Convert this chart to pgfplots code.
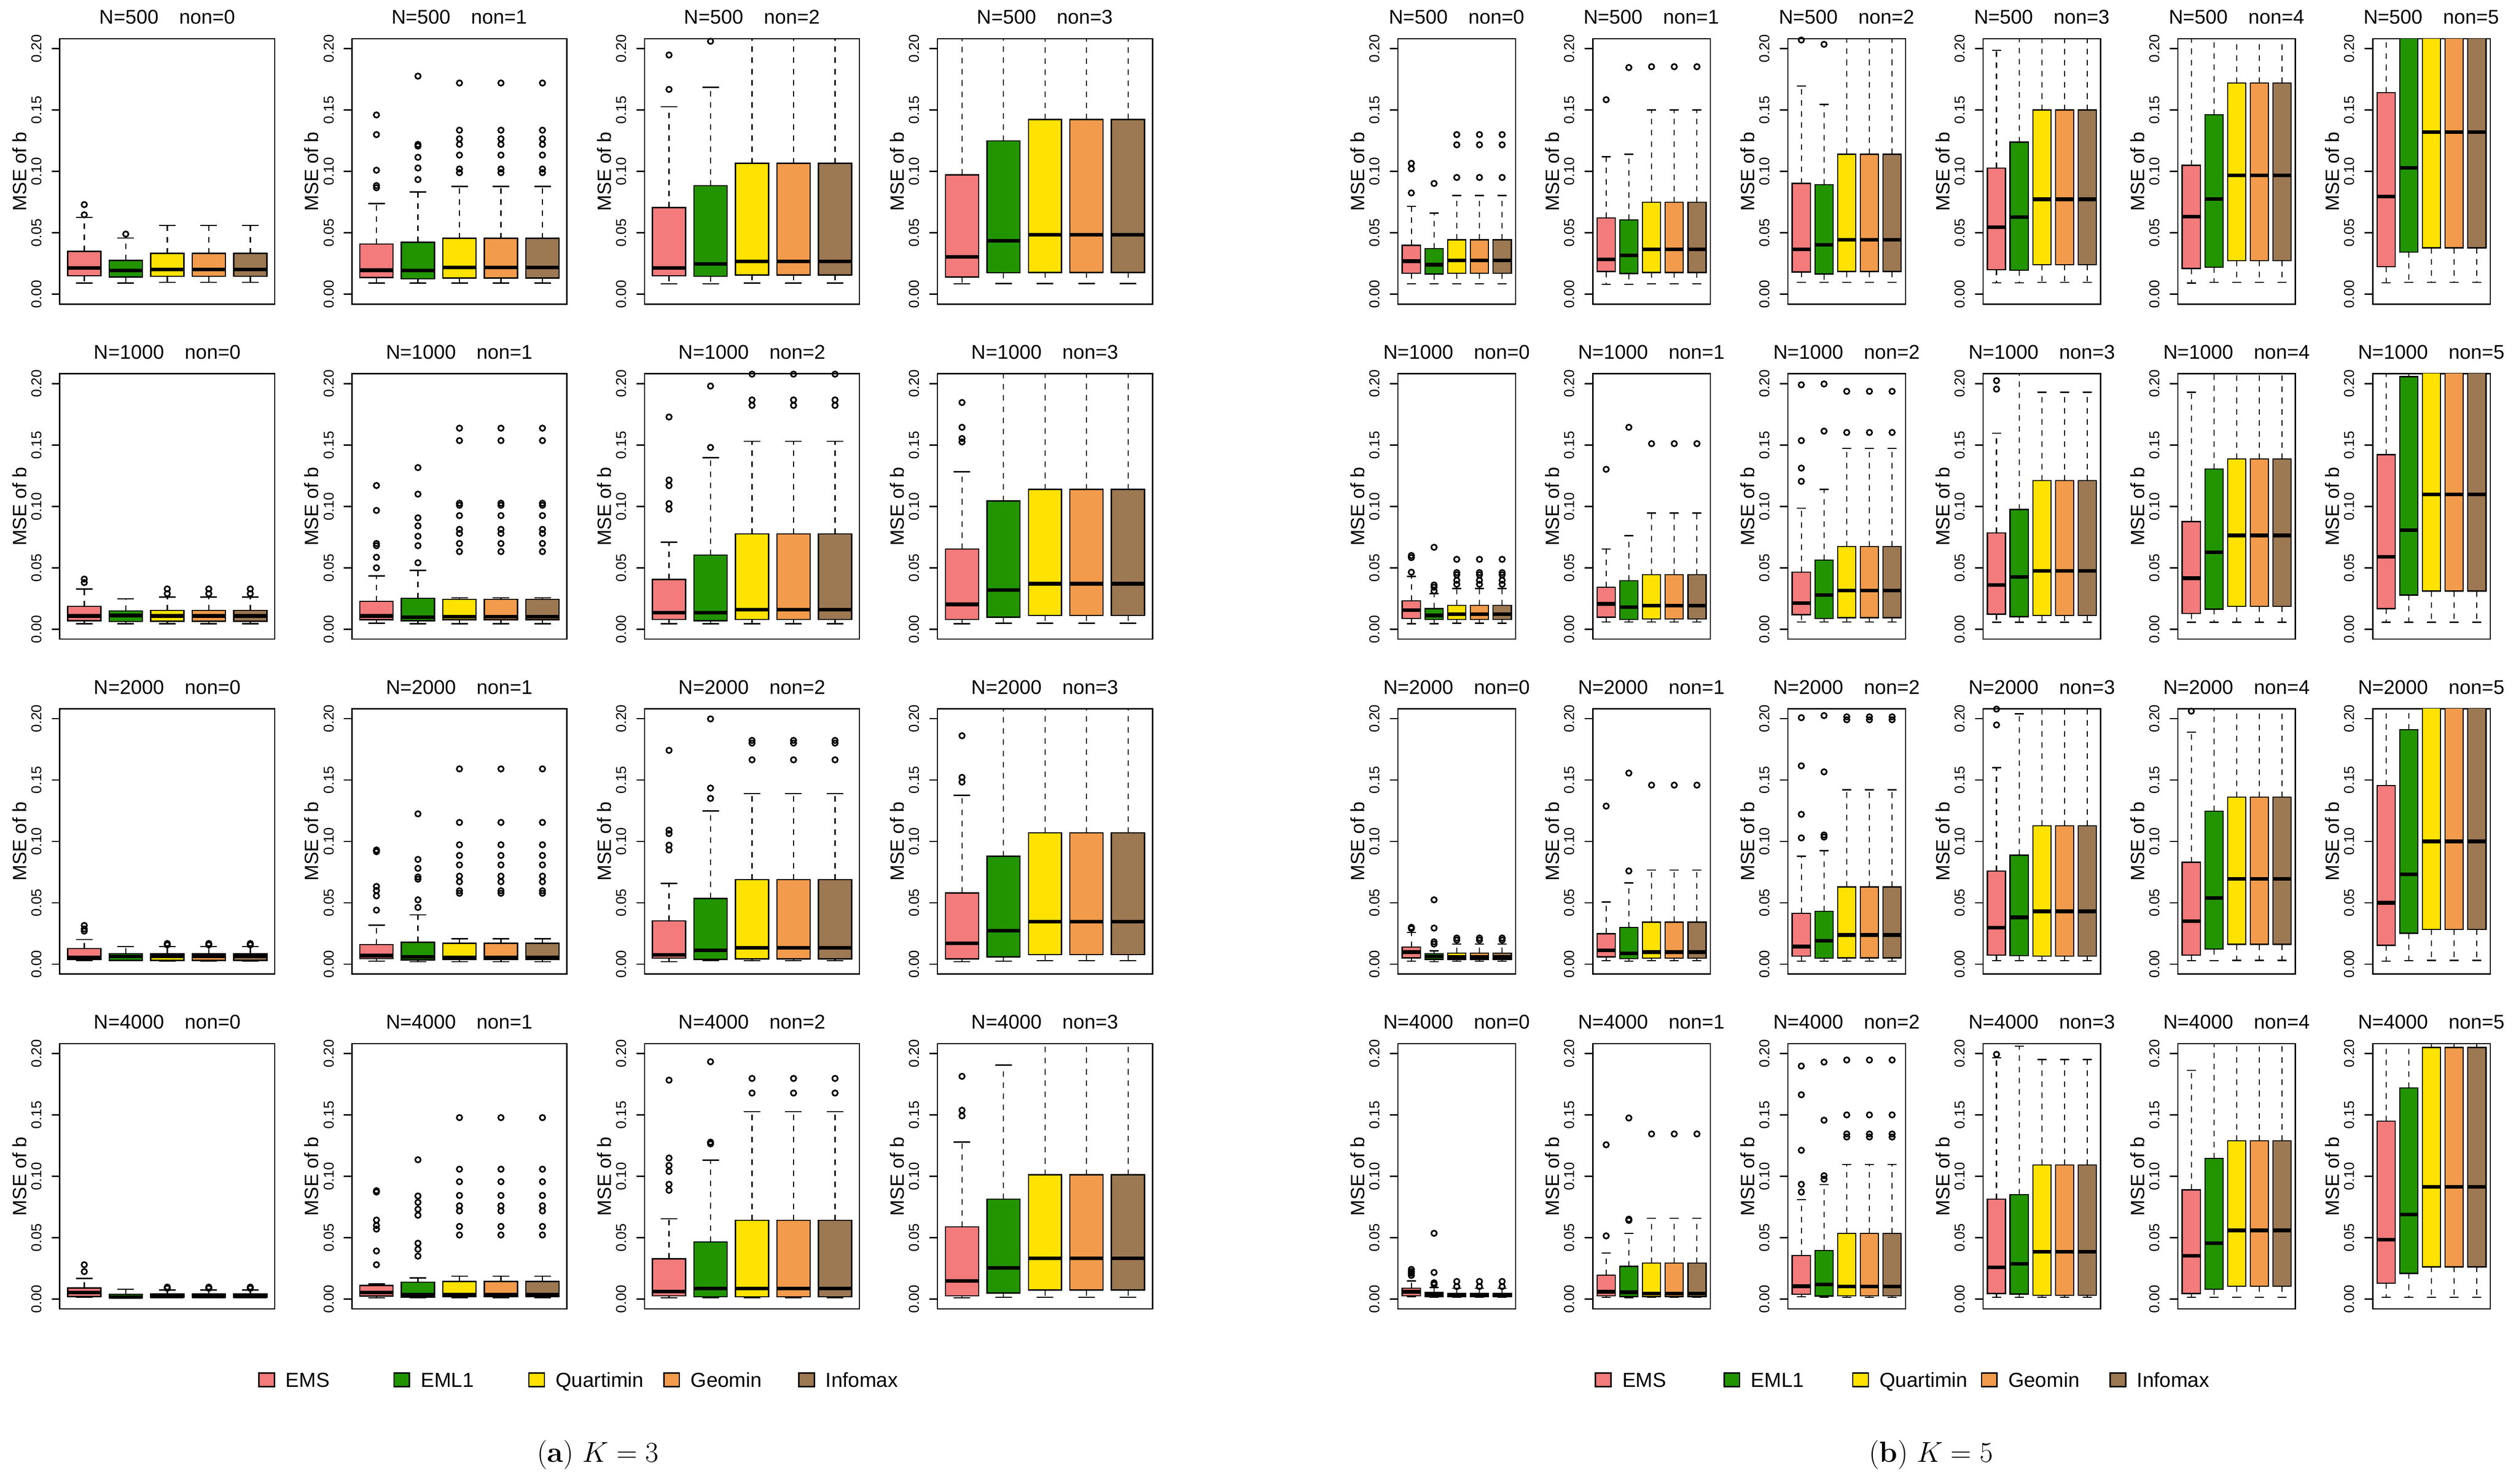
\documentclass[border=0pt]{standalone}
\usepackage{fontspec}
\usepackage{pgfplots}
\pgfplotsset{compat=1.18}
\usepgfplotslibrary{statistics}
\newfontfamily\hv{Liberation Sans}
\newcommand\tf{\hv\fontsize{10.3}{12}\selectfont}
\newcommand\ttl{\hv\fontsize{14.3}{16}\selectfont}
\newcommand\ylf{\hv\fontsize{13.8}{16}\selectfont}
\newcommand\lgf{\hv\fontsize{14.6}{16}\selectfont}
\definecolor{cE}{HTML}{F47B7B}
\definecolor{cL}{HTML}{229400}
\definecolor{cQ}{HTML}{FFE200}
\definecolor{cG}{HTML}{F39B4C}
\definecolor{cI}{HTML}{9C7853}
\pgfplotsset{
 pan/.style={
   anchor=north west, scale only axis, height=67mm,
   xmin=0.41, xmax=5.59, ymin=-0.008, ymax=0.208,
   xtick=\empty, ytick={0,0.05,0.1,0.15,0.2},
   yticklabels={0.00,0.05,0.10,0.15,0.20},
   ytick pos=left, tick align=outside, major tick length=2.06mm,
   major tick style={line width=0.9pt, black},
   axis line style={line width=0.95pt},
   yticklabel style={rotate=90, anchor=south, inner sep=0pt, font=\tf},
   yticklabel shift=2.45mm,
   ylabel={MSE of b},
   every axis y label/.style={at={(axis description cs:0,0.5)}, anchor=center, xshift=-10.2mm, rotate=90, font=\ylf},
   title style={at={(axis description cs:0.5,1)}, anchor=base, yshift=1.6mm, font=\ttl},
   boxplot/draw direction=y,
   boxplot/box extend=0.8,
   boxplot/whisker extend=0.4,
   boxplot/every median/.style={line width=2.6pt},
   boxplot/draw/lower whisker/.code={%
     \draw[dash pattern=on 4pt off 4pt, line width=0.85pt]
       (boxplot box cs:\pgfplotsboxplotvalue{lower quartile},0.5) -- (boxplot box cs:\pgfplotsboxplotvalue{lower whisker},0.5);
     \draw[solid, line width=0.9pt]
       (boxplot whisker cs:\pgfplotsboxplotvalue{lower whisker},0) -- (boxplot whisker cs:\pgfplotsboxplotvalue{lower whisker},1);
   },
   boxplot/draw/upper whisker/.code={%
     \draw[dash pattern=on 4pt off 4pt, line width=0.85pt]
       (boxplot box cs:\pgfplotsboxplotvalue{upper quartile},0.5) -- (boxplot box cs:\pgfplotsboxplotvalue{upper whisker},0.5);
     \draw[solid, line width=0.9pt]
       (boxplot whisker cs:\pgfplotsboxplotvalue{upper whisker},0) -- (boxplot whisker cs:\pgfplotsboxplotvalue{upper whisker},1);
   },
 },
 L/.style={pan, width=54.3mm},
 R/.style={pan, width=29.7mm},
 bxs/.style={draw=black, line width=0.9pt, mark=o, mark size=1.95pt,
   mark options={solid, fill=none, draw=black, line width=1.15pt}},
}
\newcommand{\bx}[7]{\addplot[bxs, boxplot/every box/.style={fill=#1, draw=black, line width=0.9pt},
  boxplot prepared={lower whisker=#2, lower quartile=#3, median=#4, upper quartile=#5, upper whisker=#6}] coordinates {#7};}
\newcommand{\ttlN}[2]{N=#1\hspace{5.2mm}non=#2}
\begin{document}
\begin{tikzpicture}
\useasboundingbox (0,0) rectangle (635.5mm,-374.8mm);
% ================= K = 3 =================
% ---- N=500
\begin{axis}[L, at={(15.1mm,-9.8mm)}, title={\ttlN{500}{0}}]
\bx{cE}{0.0091}{0.015}{0.0213}{0.035}{0.0626}{(0,0.0647)(0,0.073)}
\bx{cL}{0.0091}{0.014}{0.0192}{0.0276}{0.0458}{(0,0.049)}
\bx{cQ}{0.0098}{0.0147}{0.0203}{0.0332}{0.056}{}
\bx{cG}{0.0098}{0.0147}{0.0203}{0.0332}{0.056}{}
\bx{cI}{0.0098}{0.0147}{0.0203}{0.0332}{0.056}{}
\end{axis}
\begin{axis}[L, at={(88.9mm,-9.8mm)}, title={\ttlN{500}{1}}]
\bx{cE}{0.0091}{0.0136}{0.0196}{0.0409}{0.0738}{(0,0.0867)(0,0.0885)(0,0.101)(0,0.130)(0,0.146)}
\bx{cL}{0.0091}{0.0126}{0.0192}{0.0423}{0.0832}{(0,0.0934)(0,0.1028)(0,0.1115)(0,0.1206)(0,0.122)(0,0.1776)}
\bx{cQ}{0.0091}{0.0133}{0.0217}{0.0455}{0.0878}{(0,0.099)(0,0.102)(0,0.1133)(0,0.122)(0,0.1266)(0,0.1336)(0,0.172)}
\bx{cG}{0.0091}{0.0133}{0.0217}{0.0455}{0.0878}{(0,0.099)(0,0.102)(0,0.1133)(0,0.122)(0,0.1266)(0,0.1336)(0,0.172)}
\bx{cI}{0.0091}{0.0133}{0.0217}{0.0455}{0.0878}{(0,0.099)(0,0.102)(0,0.1133)(0,0.122)(0,0.1266)(0,0.1336)(0,0.172)}
\end{axis}
\begin{axis}[L, at={(162.8mm,-9.8mm)}, title={\ttlN{500}{2}}]
\bx{cE}{0.0084}{0.015}{0.0213}{0.0706}{0.1528}{(0,0.1668)(0,0.1948)}
\bx{cL}{0.0084}{0.0147}{0.0248}{0.0885}{0.1685}{(0,0.206)}
\bx{cQ}{0.0091}{0.0157}{0.0266}{0.1066}{0.3}{}
\bx{cG}{0.0091}{0.0157}{0.0266}{0.1066}{0.3}{}
\bx{cI}{0.0091}{0.0157}{0.0266}{0.1066}{0.3}{}
\end{axis}
\begin{axis}[L, at={(236.8mm,-9.8mm)}, title={\ttlN{500}{3}}]
\bx{cE}{0.0084}{0.014}{0.0304}{0.0972}{0.3}{}
\bx{cL}{0.0087}{0.0175}{0.0434}{0.1248}{0.3}{}
\bx{cQ}{0.0087}{0.0178}{0.0483}{0.1423}{0.3}{}
\bx{cG}{0.0087}{0.0178}{0.0483}{0.1423}{0.3}{}
\bx{cI}{0.0087}{0.0178}{0.0483}{0.1423}{0.3}{}
\end{axis}
% ---- N=1000
\begin{axis}[L, at={(15.1mm,-94.4mm)}, title={\ttlN{1000}{0}}]
\bx{cE}{0.0045}{0.007}{0.0108}{0.0185}{0.0328}{(0,0.038)(0,0.0408)}
\bx{cL}{0.0045}{0.0063}{0.0112}{0.015}{0.0248}{}
\bx{cQ}{0.0045}{0.0066}{0.0108}{0.0154}{0.0262}{(0,0.029)(0,0.0328)}
\bx{cG}{0.0045}{0.0066}{0.0108}{0.0154}{0.0262}{(0,0.029)(0,0.0328)}
\bx{cI}{0.0045}{0.0066}{0.0108}{0.0154}{0.0262}{(0,0.029)(0,0.0328)}
\end{axis}
\begin{axis}[L, at={(88.9mm,-94.4mm)}, title={\ttlN{1000}{1}}]
\bx{cE}{0.0049}{0.0077}{0.0108}{0.0227}{0.0433}{(0,0.05)(0,0.0586)(0,0.068)(0,0.0698)(0,0.0967)(0,0.117)}
\bx{cL}{0.0045}{0.007}{0.0098}{0.0251}{0.0478}{(0,0.0541)(0,0.068)(0,0.0757)(0,0.0841)(0,0.0907)(0,0.110)(0,0.1316)}
\bx{cQ}{0.0045}{0.0077}{0.0101}{0.0244}{0.0255}{(0,0.0632)(0,0.0698)(0,0.078)(0,0.0813)(0,0.0925)(0,0.1009)(0,0.1026)(0,0.1536)(0,0.1637)}
\bx{cG}{0.0045}{0.0077}{0.0101}{0.0244}{0.0255}{(0,0.0632)(0,0.0698)(0,0.078)(0,0.0813)(0,0.0925)(0,0.1009)(0,0.1026)(0,0.1536)(0,0.1637)}
\bx{cI}{0.0045}{0.0077}{0.0101}{0.0244}{0.0255}{(0,0.0632)(0,0.0698)(0,0.078)(0,0.0813)(0,0.0925)(0,0.1009)(0,0.1026)(0,0.1536)(0,0.1637)}
\end{axis}
\begin{axis}[L, at={(162.8mm,-94.4mm)}, title={\ttlN{1000}{2}}]
\bx{cE}{0.0045}{0.008}{0.0136}{0.0405}{0.0709}{(0,0.0977)(0,0.1023)(0,0.1169)(0,0.1215)(0,0.1728)}
\bx{cL}{0.0045}{0.007}{0.0136}{0.0604}{0.1396}{(0,0.148)(0,0.198)}
\bx{cQ}{0.0045}{0.008}{0.016}{0.0775}{0.1529}{(0,0.1822)(0,0.1867)(0,0.2077)}
\bx{cG}{0.0045}{0.008}{0.016}{0.0775}{0.1529}{(0,0.1822)(0,0.1867)(0,0.2077)}
\bx{cI}{0.0045}{0.008}{0.016}{0.0775}{0.1529}{(0,0.1822)(0,0.1867)(0,0.2077)}
\end{axis}
\begin{axis}[L, at={(236.8mm,-94.4mm)}, title={\ttlN{1000}{3}}]
\bx{cE}{0.0045}{0.008}{0.0202}{0.0653}{0.1281}{(0,0.1525)(0,0.1553)(0,0.1644)(0,0.1846)}
\bx{cL}{0.0049}{0.0098}{0.0318}{0.1044}{0.3}{}
\bx{cQ}{0.0049}{0.0112}{0.037}{0.1138}{0.3}{}
\bx{cG}{0.0049}{0.0112}{0.037}{0.1138}{0.3}{}
\bx{cI}{0.0049}{0.0112}{0.037}{0.1138}{0.3}{}
\end{axis}
% ---- N=2000
\begin{axis}[L, at={(15.1mm,-179.0mm)}, title={\ttlN{2000}{0}}]
\bx{cE}{0.0028}{0.0038}{0.0056}{0.0126}{0.02}{(0,0.0269)(0,0.0287)(0,0.0315)}
\bx{cL}{0.0028}{0.0031}{0.0063}{0.0087}{0.0143}{}
\bx{cQ}{0.0024}{0.003}{0.0063}{0.0084}{0.0143}{(0,0.0157)(0,0.0168)}
\bx{cG}{0.0024}{0.003}{0.0063}{0.0084}{0.0143}{(0,0.0157)(0,0.0168)}
\bx{cI}{0.0024}{0.003}{0.0063}{0.0084}{0.0143}{(0,0.0157)(0,0.0168)}
\end{axis}
\begin{axis}[L, at={(88.9mm,-179.0mm)}, title={\ttlN{2000}{1}}]
\bx{cE}{0.0024}{0.0045}{0.007}{0.016}{0.0318}{(0,0.044)(0,0.0556)(0,0.060)(0,0.0633)(0,0.0916)(0,0.093)}
\bx{cL}{0.0021}{0.0035}{0.006}{0.0178}{0.0402}{(0,0.0462)(0,0.0524)(0,0.0692)(0,0.071)(0,0.078)(0,0.0853)(0,0.1224)}
\bx{cQ}{0.0021}{0.0038}{0.0056}{0.0171}{0.0206}{(0,0.0577)(0,0.0598)(0,0.0671)(0,0.0717)(0,0.0808)(0,0.0885)(0,0.0972)(0,0.1154)(0,0.159)}
\bx{cG}{0.0021}{0.0038}{0.0056}{0.0171}{0.0206}{(0,0.0577)(0,0.0598)(0,0.0671)(0,0.0717)(0,0.0808)(0,0.0885)(0,0.0972)(0,0.1154)(0,0.159)}
\bx{cI}{0.0021}{0.0038}{0.0056}{0.0171}{0.0206}{(0,0.0577)(0,0.0598)(0,0.0671)(0,0.0717)(0,0.0808)(0,0.0885)(0,0.0972)(0,0.1154)(0,0.159)}
\end{axis}
\begin{axis}[L, at={(162.8mm,-179.0mm)}, title={\ttlN{2000}{2}}]
\bx{cE}{0.0021}{0.0049}{0.0077}{0.0353}{0.0657}{(0,0.093)(0,0.0969)(0,0.1063)(0,0.1091)(0,0.1741)}
\bx{cL}{0.0028}{0.0038}{0.0112}{0.0535}{0.1248}{(0,0.135)(0,0.1434)(0,0.1997)}
\bx{cQ}{0.0028}{0.0042}{0.0133}{0.0689}{0.1388}{(0,0.1664)(0,0.180)(0,0.1822)}
\bx{cG}{0.0028}{0.0042}{0.0133}{0.0689}{0.1388}{(0,0.1664)(0,0.180)(0,0.1822)}
\bx{cI}{0.0028}{0.0042}{0.0133}{0.0689}{0.1388}{(0,0.1664)(0,0.180)(0,0.1822)}
\end{axis}
\begin{axis}[L, at={(236.8mm,-179.0mm)}, title={\ttlN{2000}{3}}]
\bx{cE}{0.0021}{0.0042}{0.0171}{0.058}{0.1374}{(0,0.1483)(0,0.1521)(0,0.186)}
\bx{cL}{0.0024}{0.0059}{0.0273}{0.0878}{0.3}{}
\bx{cQ}{0.0028}{0.0077}{0.0346}{0.107}{0.3}{}
\bx{cG}{0.0028}{0.0077}{0.0346}{0.107}{0.3}{}
\bx{cI}{0.0028}{0.0077}{0.0346}{0.107}{0.3}{}
\end{axis}
% ---- N=4000
\begin{axis}[L, at={(15.1mm,-263.6mm)}, title={\ttlN{4000}{0}}]
\bx{cE}{0.0014}{0.0021}{0.0053}{0.0091}{0.0168}{(0,0.0224)(0,0.028)}
\bx{cL}{0.001}{0.001}{0.0018}{0.0039}{0.008}{}
\bx{cQ}{0.001}{0.0014}{0.0021}{0.0042}{0.0074}{(0,0.0088)(0,0.0098)}
\bx{cG}{0.001}{0.0014}{0.0021}{0.0042}{0.0074}{(0,0.0088)(0,0.0098)}
\bx{cI}{0.001}{0.0014}{0.0021}{0.0042}{0.0074}{(0,0.0088)(0,0.0098)}
\end{axis}
\begin{axis}[L, at={(88.9mm,-263.6mm)}, title={\ttlN{4000}{1}}]
\bx{cE}{0.001}{0.0025}{0.0053}{0.0112}{0.0123}{(0,0.028)(0,0.0392)(0,0.057)(0,0.0599)(0,0.0644)(0,0.0872)(0,0.0883)}
\bx{cL}{0.001}{0.0014}{0.0035}{0.0137}{0.0172}{(0,0.035)(0,0.0406)(0,0.0455)(0,0.0683)(0,0.0732)(0,0.0788)(0,0.084)(0,0.1135)}
\bx{cQ}{0.001}{0.0018}{0.0035}{0.0144}{0.0186}{(0,0.0522)(0,0.0592)(0,0.0718)(0,0.076)(0,0.0844)(0,0.0956)(0,0.1058)(0,0.1478)}
\bx{cG}{0.001}{0.0018}{0.0035}{0.0144}{0.0186}{(0,0.0522)(0,0.0592)(0,0.0718)(0,0.076)(0,0.0844)(0,0.0956)(0,0.1058)(0,0.1478)}
\bx{cI}{0.001}{0.0018}{0.0035}{0.0144}{0.0186}{(0,0.0522)(0,0.0592)(0,0.0718)(0,0.076)(0,0.0844)(0,0.0956)(0,0.1058)(0,0.1478)}
\end{axis}
\begin{axis}[L, at={(162.8mm,-263.6mm)}, title={\ttlN{4000}{2}}]
\bx{cE}{0.001}{0.0028}{0.0063}{0.0329}{0.0655}{(0,0.0886)(0,0.0935)(0,0.104)(0,0.1089)(0,0.1149)(0,0.1783)}
\bx{cL}{0.001}{0.0018}{0.0088}{0.0466}{0.1131}{(0,0.1264)(0,0.1278)(0,0.1933)}
\bx{cQ}{0.001}{0.0018}{0.0088}{0.0641}{0.1527}{(0,0.1678)(0,0.1797)}
\bx{cG}{0.001}{0.0018}{0.0088}{0.0641}{0.1527}{(0,0.1678)(0,0.1797)}
\bx{cI}{0.001}{0.0018}{0.0088}{0.0641}{0.1527}{(0,0.1678)(0,0.1797)}
\end{axis}
\begin{axis}[L, at={(236.8mm,-263.6mm)}, title={\ttlN{4000}{3}}]
\bx{cE}{0.001}{0.0028}{0.0147}{0.0588}{0.1278}{(0,0.1492)(0,0.1538)(0,0.1814)}
\bx{cL}{0.0014}{0.0049}{0.0256}{0.0813}{0.1905}{}
\bx{cQ}{0.0014}{0.0074}{0.0333}{0.1012}{0.3}{}
\bx{cG}{0.0014}{0.0074}{0.0333}{0.1012}{0.3}{}
\bx{cI}{0.0014}{0.0074}{0.0333}{0.1012}{0.3}{}
\end{axis}
% ================= K = 5 =================
% ---- N=500
\begin{axis}[R, at={(353.1mm,-9.8mm)}, title={\ttlN{500}{0}}]
\bx{cE}{0.0084}{0.0171}{0.0269}{0.0399}{0.0717}{(0,0.0825)(0,0.1021)(0,0.1066)}
\bx{cL}{0.0084}{0.0164}{0.0241}{0.0371}{0.0661}{(0,0.0902)}
\bx{cQ}{0.0084}{0.0171}{0.0276}{0.0444}{0.0804}{(0,0.0951)(0,0.1217)(0,0.130)}
\bx{cG}{0.0084}{0.0171}{0.0276}{0.0444}{0.0804}{(0,0.0951)(0,0.1217)(0,0.130)}
\bx{cI}{0.0084}{0.0171}{0.0276}{0.0444}{0.0804}{(0,0.0951)(0,0.1217)(0,0.130)}
\end{axis}
\begin{axis}[R, at={(402.3mm,-9.8mm)}, title={\ttlN{500}{1}}]
\bx{cE}{0.008}{0.0185}{0.0283}{0.0622}{0.1119}{(0,0.1584)}
\bx{cL}{0.008}{0.0168}{0.0315}{0.0605}{0.114}{(0,0.1846)}
\bx{cQ}{0.0084}{0.0178}{0.0367}{0.0748}{0.15}{(0,0.1853)}
\bx{cG}{0.0084}{0.0178}{0.0367}{0.0748}{0.15}{(0,0.1853)}
\bx{cI}{0.0084}{0.0178}{0.0367}{0.0748}{0.15}{(0,0.1853)}
\end{axis}
\begin{axis}[R, at={(451.6mm,-9.8mm)}, title={\ttlN{500}{2}}]
\bx{cE}{0.0098}{0.0182}{0.0367}{0.0902}{0.1696}{(0,0.207)}
\bx{cL}{0.0098}{0.0164}{0.0402}{0.0892}{0.1545}{(0,0.2035)}
\bx{cQ}{0.0098}{0.0185}{0.0444}{0.114}{0.3}{}
\bx{cG}{0.0098}{0.0185}{0.0444}{0.114}{0.3}{}
\bx{cI}{0.0098}{0.0185}{0.0444}{0.114}{0.3}{}
\end{axis}
\begin{axis}[R, at={(500.9mm,-9.8mm)}, title={\ttlN{500}{3}}]
\bx{cE}{0.0094}{0.0199}{0.0545}{0.1028}{0.1986}{}
\bx{cL}{0.0094}{0.0196}{0.0629}{0.1238}{0.3}{}
\bx{cQ}{0.0098}{0.0241}{0.0773}{0.15}{0.3}{}
\bx{cG}{0.0098}{0.0241}{0.0773}{0.15}{0.3}{}
\bx{cI}{0.0098}{0.0241}{0.0773}{0.15}{0.3}{}
\end{axis}
\begin{axis}[R, at={(550.1mm,-9.8mm)}, title={\ttlN{500}{4}}]
\bx{cE}{0.0091}{0.021}{0.0633}{0.1049}{0.3}{}
\bx{cL}{0.0098}{0.022}{0.0776}{0.1462}{0.3}{}
\bx{cQ}{0.0098}{0.0273}{0.0969}{0.172}{0.3}{}
\bx{cG}{0.0098}{0.0273}{0.0969}{0.172}{0.3}{}
\bx{cI}{0.0098}{0.0273}{0.0969}{0.172}{0.3}{}
\end{axis}
\begin{axis}[R, at={(599.3mm,-9.8mm)}, title={\ttlN{500}{5}}]
\bx{cE}{0.0094}{0.0224}{0.0797}{0.1643}{0.3}{}
\bx{cL}{0.0098}{0.0343}{0.1031}{0.25}{0.3}{}
\bx{cQ}{0.0098}{0.0378}{0.1322}{0.25}{0.3}{}
\bx{cG}{0.0098}{0.0378}{0.1322}{0.25}{0.3}{}
\bx{cI}{0.0098}{0.0378}{0.1322}{0.25}{0.3}{}
\end{axis}
% ---- N=1000
\begin{axis}[R, at={(353.1mm,-94.4mm)}, title={\ttlN{1000}{0}}]
\bx{cE}{0.0045}{0.0087}{0.0154}{0.023}{0.0429}{(0,0.0464)(0,0.0583)(0,0.06)}
\bx{cL}{0.0045}{0.008}{0.0112}{0.0168}{0.029}{(0,0.0311)(0,0.0342)(0,0.036)(0,0.0667)}
\bx{cQ}{0.0049}{0.008}{0.0122}{0.0195}{0.0332}{(0,0.0366)(0,0.0398)(0,0.0443)(0,0.0461)(0,0.0569)}
\bx{cG}{0.0049}{0.008}{0.0122}{0.0195}{0.0332}{(0,0.0366)(0,0.0398)(0,0.0443)(0,0.0461)(0,0.0569)}
\bx{cI}{0.0049}{0.008}{0.0122}{0.0195}{0.0332}{(0,0.0366)(0,0.0398)(0,0.0443)(0,0.0461)(0,0.0569)}
\end{axis}
\begin{axis}[R, at={(402.3mm,-94.4mm)}, title={\ttlN{1000}{1}}]
\bx{cE}{0.0059}{0.0098}{0.0206}{0.0342}{0.0653}{(0,0.1302)}
\bx{cL}{0.0059}{0.008}{0.0181}{0.0394}{0.0761}{(0,0.1644)}
\bx{cQ}{0.0059}{0.0084}{0.0192}{0.0443}{0.0946}{(0,0.1511)}
\bx{cG}{0.0059}{0.0084}{0.0192}{0.0443}{0.0946}{(0,0.1511)}
\bx{cI}{0.0059}{0.0084}{0.0192}{0.0443}{0.0946}{(0,0.1511)}
\end{axis}
\begin{axis}[R, at={(451.6mm,-94.4mm)}, title={\ttlN{1000}{2}}]
\bx{cE}{0.0059}{0.0119}{0.0213}{0.0464}{0.0984}{(0,0.1204)(0,0.1312)(0,0.1536)(0,0.199)}
\bx{cL}{0.0059}{0.0087}{0.0279}{0.0562}{0.1138}{(0,0.1613)(0,0.1997)}
\bx{cQ}{0.0059}{0.0094}{0.0314}{0.0674}{0.1473}{(0,0.1602)(0,0.1937)}
\bx{cG}{0.0059}{0.0094}{0.0314}{0.0674}{0.1473}{(0,0.1602)(0,0.1937)}
\bx{cI}{0.0059}{0.0094}{0.0314}{0.0674}{0.1473}{(0,0.1602)(0,0.1937)}
\end{axis}
\begin{axis}[R, at={(500.9mm,-94.4mm)}, title={\ttlN{1000}{3}}]
\bx{cE}{0.0056}{0.0122}{0.036}{0.0785}{0.1595}{(0,0.1955)(0,0.2024)}
\bx{cL}{0.0056}{0.0101}{0.0426}{0.0974}{0.3}{}
\bx{cQ}{0.0056}{0.0112}{0.0475}{0.1211}{0.193}{}
\bx{cG}{0.0056}{0.0112}{0.0475}{0.1211}{0.193}{}
\bx{cI}{0.0056}{0.0112}{0.0475}{0.1211}{0.193}{}
\end{axis}
\begin{axis}[R, at={(550.1mm,-94.4mm)}, title={\ttlN{1000}{4}}]
\bx{cE}{0.0056}{0.0129}{0.0415}{0.0876}{0.193}{}
\bx{cL}{0.0056}{0.0164}{0.0625}{0.1305}{0.3}{}
\bx{cQ}{0.0056}{0.0185}{0.0764}{0.1386}{0.3}{}
\bx{cG}{0.0056}{0.0185}{0.0764}{0.1386}{0.3}{}
\bx{cI}{0.0056}{0.0185}{0.0764}{0.1386}{0.3}{}
\end{axis}
\begin{axis}[R, at={(599.3mm,-94.4mm)}, title={\ttlN{1000}{5}}]
\bx{cE}{0.0056}{0.0168}{0.059}{0.1421}{0.3}{}
\bx{cL}{0.0056}{0.0279}{0.0806}{0.2056}{0.3}{}
\bx{cQ}{0.0056}{0.0311}{0.1096}{0.25}{0.3}{}
\bx{cG}{0.0056}{0.0311}{0.1096}{0.25}{0.3}{}
\bx{cI}{0.0056}{0.0311}{0.1096}{0.25}{0.3}{}
\end{axis}
% ---- N=2000
\begin{axis}[R, at={(353.1mm,-179.0mm)}, title={\ttlN{2000}{0}}]
\bx{cE}{0.0024}{0.0052}{0.0098}{0.014}{0.0259}{(0,0.029)(0,0.030)}
\bx{cL}{0.0021}{0.0038}{0.0063}{0.0087}{0.0108}{(0,0.0164)(0,0.0182)(0,0.0294)(0,0.0524)}
\bx{cQ}{0.0024}{0.0038}{0.006}{0.0091}{0.0164}{(0,0.0196)(0,0.0213)}
\bx{cG}{0.0024}{0.0038}{0.006}{0.0091}{0.0164}{(0,0.0196)(0,0.0213)}
\bx{cI}{0.0024}{0.0038}{0.006}{0.0091}{0.0164}{(0,0.0196)(0,0.0213)}
\end{axis}
\begin{axis}[R, at={(402.3mm,-179.0mm)}, title={\ttlN{2000}{1}}]
\bx{cE}{0.0028}{0.0059}{0.0112}{0.0248}{0.0507}{(0,0.1287)}
\bx{cL}{0.0024}{0.0045}{0.0087}{0.030}{0.0661}{(0,0.0759)(0,0.1556)}
\bx{cQ}{0.0028}{0.0049}{0.0098}{0.0343}{0.0766}{(0,0.1458)}
\bx{cG}{0.0028}{0.0049}{0.0098}{0.0343}{0.0766}{(0,0.1458)}
\bx{cI}{0.0028}{0.0049}{0.0098}{0.0343}{0.0766}{(0,0.1458)}
\end{axis}
\begin{axis}[R, at={(451.6mm,-179.0mm)}, title={\ttlN{2000}{2}}]
\bx{cE}{0.0024}{0.0066}{0.0143}{0.0413}{0.0878}{(0,0.1028)(0,0.122)(0,0.1615)(0,0.2007)}
\bx{cL}{0.0024}{0.0049}{0.0192}{0.043}{0.0923}{(0,0.1035)(0,0.1052)(0,0.1566)(0,0.2024)}
\bx{cQ}{0.0024}{0.0052}{0.0238}{0.0629}{0.142}{(0,0.199)(0,0.2014)}
\bx{cG}{0.0024}{0.0052}{0.0238}{0.0629}{0.142}{(0,0.199)(0,0.2014)}
\bx{cI}{0.0024}{0.0052}{0.0238}{0.0629}{0.142}{(0,0.199)(0,0.2014)}
\end{axis}
\begin{axis}[R, at={(500.9mm,-179.0mm)}, title={\ttlN{2000}{3}}]
\bx{cE}{0.0028}{0.0073}{0.0297}{0.0759}{0.1601}{(0,0.1948)(0,0.2077)}
\bx{cL}{0.0028}{0.007}{0.0381}{0.0888}{0.2038}{}
\bx{cQ}{0.0028}{0.0066}{0.043}{0.1126}{0.3}{}
\bx{cG}{0.0028}{0.0066}{0.043}{0.1126}{0.3}{}
\bx{cI}{0.0028}{0.0066}{0.043}{0.1126}{0.3}{}
\end{axis}
\begin{axis}[R, at={(550.1mm,-179.0mm)}, title={\ttlN{2000}{4}}]
\bx{cE}{0.0028}{0.0073}{0.035}{0.0829}{0.1888}{(0,0.206)}
\bx{cL}{0.0028}{0.0122}{0.0538}{0.1245}{0.3}{}
\bx{cQ}{0.0031}{0.0161}{0.0696}{0.136}{0.3}{}
\bx{cG}{0.0031}{0.0161}{0.0696}{0.136}{0.3}{}
\bx{cI}{0.0031}{0.0161}{0.0696}{0.136}{0.3}{}
\end{axis}
\begin{axis}[R, at={(599.3mm,-179.0mm)}, title={\ttlN{2000}{5}}]
\bx{cE}{0.0024}{0.0154}{0.05}{0.1455}{0.3}{}
\bx{cL}{0.0028}{0.0252}{0.0731}{0.1909}{0.3}{}
\bx{cQ}{0.0031}{0.0283}{0.10}{0.25}{0.3}{}
\bx{cG}{0.0031}{0.0283}{0.10}{0.25}{0.3}{}
\bx{cI}{0.0031}{0.0283}{0.10}{0.25}{0.3}{}
\end{axis}
% ---- N=4000
\begin{axis}[R, at={(353.1mm,-263.6mm)}, title={\ttlN{4000}{0}}]
\bx{cE}{0.0018}{0.0028}{0.006}{0.0088}{0.0147}{(0,0.0193)(0,0.021)(0,0.0224)(0,0.0242)}
\bx{cL}{0.0014}{0.0018}{0.0032}{0.0053}{0.0095}{(0,0.0119)(0,0.0133)(0,0.0217)(0,0.0536)}
\bx{cQ}{0.0014}{0.0018}{0.0028}{0.0046}{0.0088}{(0,0.0102)(0,0.0144)}
\bx{cG}{0.0014}{0.0018}{0.0028}{0.0046}{0.0088}{(0,0.0102)(0,0.0144)}
\bx{cI}{0.0014}{0.0018}{0.0028}{0.0046}{0.0088}{(0,0.0102)(0,0.0144)}
\end{axis}
\begin{axis}[R, at={(402.3mm,-263.6mm)}, title={\ttlN{4000}{1}}]
\bx{cE}{0.0014}{0.0028}{0.006}{0.0196}{0.0375}{(0,0.0515)(0,0.1257)}
\bx{cL}{0.001}{0.0021}{0.0056}{0.0266}{0.0536}{(0,0.0641)(0,0.0651)(0,0.1475)}
\bx{cQ}{0.0014}{0.0021}{0.0046}{0.0294}{0.0658}{(0,0.1345)}
\bx{cG}{0.0014}{0.0021}{0.0046}{0.0294}{0.0658}{(0,0.1345)}
\bx{cI}{0.0014}{0.0021}{0.0046}{0.0294}{0.0658}{(0,0.1345)}
\end{axis}
\begin{axis}[R, at={(451.6mm,-263.6mm)}, title={\ttlN{4000}{2}}]
\bx{cE}{0.0018}{0.0039}{0.0105}{0.0354}{0.0809}{(0,0.0872)(0,0.0935)(0,0.1212)(0,0.1664)(0,0.1898)}
\bx{cL}{0.0014}{0.0025}{0.0119}{0.0396}{0.0932}{(0,0.0977)(0,0.1005)(0,0.1457)(0,0.193)}
\bx{cQ}{0.0014}{0.0028}{0.0102}{0.0536}{0.1096}{(0,0.132)(0,0.1345)(0,0.150)(0,0.1947)}
\bx{cG}{0.0014}{0.0028}{0.0102}{0.0536}{0.1096}{(0,0.132)(0,0.1345)(0,0.150)(0,0.1947)}
\bx{cI}{0.0014}{0.0028}{0.0102}{0.0536}{0.1096}{(0,0.132)(0,0.1345)(0,0.150)(0,0.1947)}
\end{axis}
\begin{axis}[R, at={(500.9mm,-263.6mm)}, title={\ttlN{4000}{3}}]
\bx{cE}{0.0014}{0.0046}{0.0259}{0.0813}{0.1965}{(0,0.1993)}
\bx{cL}{0.0014}{0.0042}{0.0287}{0.0851}{0.206}{}
\bx{cQ}{0.0014}{0.0032}{0.0385}{0.1093}{0.1951}{}
\bx{cG}{0.0014}{0.0032}{0.0385}{0.1093}{0.1951}{}
\bx{cI}{0.0014}{0.0032}{0.0385}{0.1093}{0.1951}{}
\end{axis}
\begin{axis}[R, at={(550.1mm,-263.6mm)}, title={\ttlN{4000}{4}}]
\bx{cE}{0.0014}{0.0046}{0.0354}{0.089}{0.1863}{}
\bx{cL}{0.0014}{0.0081}{0.0455}{0.1145}{0.3}{}
\bx{cQ}{0.0014}{0.0105}{0.056}{0.1289}{0.3}{}
\bx{cG}{0.0014}{0.0105}{0.056}{0.1289}{0.3}{}
\bx{cI}{0.0014}{0.0105}{0.056}{0.1289}{0.3}{}
\end{axis}
\begin{axis}[R, at={(599.3mm,-263.6mm)}, title={\ttlN{4000}{5}}]
\bx{cE}{0.0014}{0.013}{0.0483}{0.145}{0.3}{}
\bx{cL}{0.0014}{0.021}{0.069}{0.172}{0.3}{}
\bx{cQ}{0.0014}{0.0263}{0.0914}{0.2049}{0.3}{}
\bx{cG}{0.0014}{0.0263}{0.0914}{0.2049}{0.3}{}
\bx{cI}{0.0014}{0.0263}{0.0914}{0.2049}{0.3}{}
\end{axis}
% ================= legends =================
\begin{scope}[line width=0.95pt]
\draw[fill=cE] (65.4mm,-346.8mm) rectangle ++(3.9mm,-3.4mm);
\node[anchor=base west, inner sep=0pt, font=\lgf] at (72.0mm,-350.3mm) {EMS};
\draw[fill=cL] (99.5mm,-346.8mm) rectangle ++(3.9mm,-3.4mm);
\node[anchor=base west, inner sep=0pt, font=\lgf] at (106.1mm,-350.3mm) {EML1};
\draw[fill=cQ] (133.6mm,-346.8mm) rectangle ++(3.9mm,-3.4mm);
\node[anchor=base west, inner sep=0pt, font=\lgf] at (140.2mm,-350.3mm) {Quartimin};
\draw[fill=cG] (167.7mm,-346.8mm) rectangle ++(3.9mm,-3.4mm);
\node[anchor=base west, inner sep=0pt, font=\lgf] at (174.3mm,-350.3mm) {Geomin};
\draw[fill=cI] (201.8mm,-346.8mm) rectangle ++(3.9mm,-3.4mm);
\node[anchor=base west, inner sep=0pt, font=\lgf] at (208.4mm,-350.3mm) {Infomax};
\draw[fill=cE] (403.0mm,-346.8mm) rectangle ++(3.9mm,-3.4mm);
\node[anchor=base west, inner sep=0pt, font=\lgf] at (409.6mm,-350.3mm) {EMS};
\draw[fill=cL] (435.5mm,-346.8mm) rectangle ++(3.9mm,-3.4mm);
\node[anchor=base west, inner sep=0pt, font=\lgf] at (442.1mm,-350.3mm) {EML1};
\draw[fill=cQ] (468.0mm,-346.8mm) rectangle ++(3.9mm,-3.4mm);
\node[anchor=base west, inner sep=0pt, font=\lgf] at (474.6mm,-350.3mm) {Quartimin};
\draw[fill=cG] (500.5mm,-346.8mm) rectangle ++(3.9mm,-3.4mm);
\node[anchor=base west, inner sep=0pt, font=\lgf] at (507.1mm,-350.3mm) {Geomin};
\draw[fill=cI] (533.0mm,-346.8mm) rectangle ++(3.9mm,-3.4mm);
\node[anchor=base west, inner sep=0pt, font=\lgf] at (539.6mm,-350.3mm) {Infomax};
\end{scope}
\node[anchor=base west, inner sep=0pt, font=\fontsize{21}{24}\selectfont] at (135.6mm,-369.3mm) {(\textbf{a}) $K=3$};
\node[anchor=base west, inner sep=0pt, font=\fontsize{21}{24}\selectfont] at (472.0mm,-369.3mm) {(\textbf{b}) $K=5$};
\end{tikzpicture}
\end{document}
